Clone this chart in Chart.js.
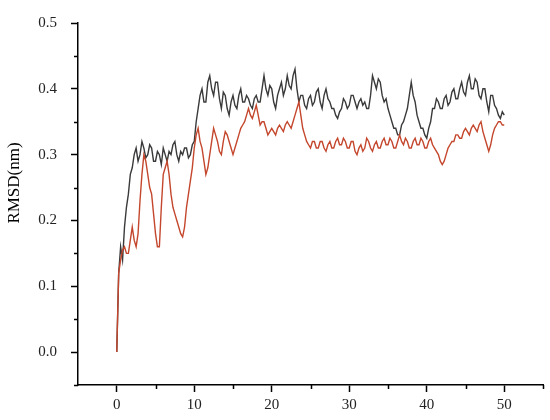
<!DOCTYPE html>
<html>
<head>
<meta charset="utf-8">
<script src="https://cdn.jsdelivr.net/npm/chart.js@4.4.0/dist/chart.umd.min.js"></script>
<style>
  body { margin: 0; background: #fff; }
</style>
</head>
<body>
<canvas id="myChart" width="550" height="420"></canvas>
<script>
// time in ns, 0.25 ns steps
const times = [
  0, 0.25, 0.5, 0.75, 1, 1.25, 1.5, 1.75, 2, 2.25, 2.5, 2.75, 3, 3.25, 3.5, 3.75, 4, 4.25, 4.5, 4.75,
  5, 5.25, 5.5, 5.75, 6, 6.25, 6.5, 6.75, 7, 7.25, 7.5, 7.75, 8, 8.25, 8.5, 8.75, 9, 9.25, 9.5, 9.75,
  10, 10.25, 10.5, 10.75, 11, 11.25, 11.5, 11.75, 12, 12.25, 12.5, 12.75, 13, 13.25, 13.5, 13.75, 14, 14.25, 14.5, 14.75,
  15, 15.25, 15.5, 15.75, 16, 16.25, 16.5, 16.75, 17, 17.25, 17.5, 17.75, 18, 18.25, 18.5, 18.75, 19, 19.25, 19.5, 19.75,
  20, 20.25, 20.5, 20.75, 21, 21.25, 21.5, 21.75, 22, 22.25, 22.5, 22.75, 23, 23.25, 23.5, 23.75, 24, 24.25, 24.5, 24.75,
  25, 25.25, 25.5, 25.75, 26, 26.25, 26.5, 26.75, 27, 27.25, 27.5, 27.75, 28, 28.25, 28.5, 28.75, 29, 29.25, 29.5, 29.75,
  30, 30.25, 30.5, 30.75, 31, 31.25, 31.5, 31.75, 32, 32.25, 32.5, 32.75, 33, 33.25, 33.5, 33.75, 34, 34.25, 34.5, 34.75,
  35, 35.25, 35.5, 35.75, 36, 36.25, 36.5, 36.75, 37, 37.25, 37.5, 37.75, 38, 38.25, 38.5, 38.75, 39, 39.25, 39.5, 39.75,
  40, 40.25, 40.5, 40.75, 41, 41.25, 41.5, 41.75, 42, 42.25, 42.5, 42.75, 43, 43.25, 43.5, 43.75, 44, 44.25, 44.5, 44.75,
  45, 45.25, 45.5, 45.75, 46, 46.25, 46.5, 46.75, 47, 47.25, 47.5, 47.75, 48, 48.25, 48.5, 48.75, 49, 49.25, 49.5, 49.75,
  50
];

// RMSD (nm), black trace
const blackRmsd = [
  0.00, 0.12, 0.16, 0.14, 0.19, 0.22, 0.24, 0.27, 0.28, 0.30, 0.31, 0.29, 0.30, 0.32, 0.31, 0.295, 0.30, 0.315, 0.31, 0.29,
  0.29, 0.305, 0.30, 0.285, 0.31, 0.30, 0.29, 0.305, 0.30, 0.315, 0.32, 0.30, 0.29, 0.305, 0.30, 0.31, 0.31, 0.295, 0.30, 0.315,
  0.32, 0.35, 0.37, 0.39, 0.40, 0.38, 0.38, 0.41, 0.42, 0.40, 0.39, 0.41, 0.41, 0.385, 0.37, 0.395, 0.39, 0.37, 0.36, 0.38,
  0.39, 0.375, 0.37, 0.39, 0.40, 0.38, 0.38, 0.39, 0.385, 0.375, 0.37, 0.385, 0.39, 0.38, 0.38, 0.40, 0.42, 0.40, 0.39, 0.405,
  0.40, 0.38, 0.37, 0.39, 0.40, 0.41, 0.39, 0.40, 0.42, 0.405, 0.40, 0.42, 0.43, 0.40, 0.38, 0.39, 0.39, 0.375, 0.37, 0.385,
  0.39, 0.375, 0.38, 0.395, 0.40, 0.38, 0.37, 0.39, 0.40, 0.385, 0.38, 0.37, 0.37, 0.36, 0.355, 0.365, 0.37, 0.385, 0.38, 0.37,
  0.375, 0.39, 0.39, 0.38, 0.37, 0.38, 0.385, 0.375, 0.38, 0.37, 0.37, 0.39, 0.42, 0.41, 0.40, 0.415, 0.41, 0.39, 0.38, 0.385,
  0.37, 0.36, 0.35, 0.34, 0.34, 0.33, 0.33, 0.345, 0.35, 0.36, 0.37, 0.39, 0.41, 0.39, 0.38, 0.36, 0.35, 0.34, 0.34, 0.33,
  0.325, 0.34, 0.35, 0.37, 0.37, 0.385, 0.38, 0.37, 0.37, 0.385, 0.39, 0.375, 0.38, 0.395, 0.40, 0.385, 0.385, 0.40, 0.41, 0.395,
  0.39, 0.41, 0.42, 0.40, 0.40, 0.415, 0.41, 0.39, 0.385, 0.40, 0.40, 0.38, 0.365, 0.39, 0.39, 0.375, 0.37, 0.36, 0.355, 0.365,
  0.36
];

// RMSD (nm), red trace
const redRmsd = [
  0.00, 0.12, 0.14, 0.155, 0.16, 0.15, 0.15, 0.17, 0.19, 0.17, 0.16, 0.18, 0.23, 0.27, 0.30, 0.29, 0.27, 0.25, 0.24, 0.21,
  0.18, 0.16, 0.16, 0.22, 0.27, 0.28, 0.29, 0.27, 0.24, 0.22, 0.21, 0.20, 0.19, 0.18, 0.175, 0.19, 0.22, 0.24, 0.26, 0.28,
  0.31, 0.33, 0.34, 0.32, 0.31, 0.29, 0.27, 0.28, 0.30, 0.32, 0.34, 0.33, 0.32, 0.305, 0.30, 0.32, 0.335, 0.33, 0.32, 0.31,
  0.30, 0.31, 0.32, 0.33, 0.34, 0.345, 0.35, 0.36, 0.37, 0.36, 0.355, 0.365, 0.375, 0.36, 0.345, 0.35, 0.35, 0.34, 0.33, 0.335,
  0.34, 0.335, 0.33, 0.34, 0.345, 0.34, 0.335, 0.345, 0.35, 0.345, 0.34, 0.35, 0.36, 0.37, 0.38, 0.36, 0.34, 0.33, 0.32, 0.315,
  0.31, 0.32, 0.32, 0.31, 0.31, 0.32, 0.32, 0.31, 0.305, 0.315, 0.32, 0.31, 0.31, 0.32, 0.325, 0.315, 0.315, 0.325, 0.32, 0.31,
  0.31, 0.32, 0.32, 0.305, 0.30, 0.31, 0.315, 0.305, 0.31, 0.325, 0.32, 0.31, 0.305, 0.315, 0.32, 0.31, 0.31, 0.32, 0.325, 0.315,
  0.315, 0.325, 0.32, 0.31, 0.31, 0.32, 0.33, 0.32, 0.315, 0.325, 0.32, 0.31, 0.31, 0.32, 0.325, 0.315, 0.315, 0.325, 0.32, 0.31,
  0.31, 0.32, 0.325, 0.315, 0.31, 0.305, 0.30, 0.29, 0.285, 0.29, 0.30, 0.31, 0.315, 0.32, 0.32, 0.33, 0.33, 0.325, 0.325, 0.335,
  0.34, 0.335, 0.33, 0.34, 0.345, 0.34, 0.335, 0.345, 0.35, 0.335, 0.325, 0.315, 0.305, 0.315, 0.33, 0.34, 0.345, 0.35, 0.35, 0.345,
  0.345
];

const xMajorTicks = [0, 10, 20, 30, 40, 50];
const xMinorTicks = [5, 15, 25, 35, 45, 55];
const yMajorTicks = [0, 0.1, 0.2, 0.3, 0.4, 0.5];
const yMinorTicks = [-0.05, 0.05, 0.15, 0.25, 0.35, 0.45];
const yTitle = "RMSD(nm)";

const fontFamily = "'Liberation Serif', 'DejaVu Serif', serif";

// short minor ticks + rotated y title
const extrasPlugin = {
  id: "extras",
  afterDraw(chart) {
    const ctx = chart.ctx;
    const xs = chart.scales.x;
    const ys = chart.scales.y;
    ctx.save();
    ctx.strokeStyle = "#000";
    ctx.lineWidth = 1.5;
    ctx.beginPath();
    xMinorTicks.forEach((v) => {
      const px = Math.round(xs.getPixelForValue(v)) + 0.5;
      ctx.moveTo(px, xs.top);
      ctx.lineTo(px, xs.top + 4);
    });
    yMinorTicks.forEach((v) => {
      const py = Math.round(ys.getPixelForValue(v)) + 0.5;
      ctx.moveTo(ys.right, py);
      ctx.lineTo(ys.right - 4, py);
    });
    ctx.stroke();

    ctx.translate(15, 183);
    ctx.rotate(-Math.PI / 2);
    ctx.fillStyle = "#000";
    ctx.font = "17px " + fontFamily;
    ctx.textAlign = "center";
    ctx.textBaseline = "middle";
    ctx.fillText(yTitle, 0, 0);
    ctx.restore();
  },
};

const ctx = document.getElementById("myChart").getContext("2d");
new Chart(ctx, {
  type: "line",
  data: {
    datasets: [
      {
        data: times.map((t, i) => ({ x: t, y: redRmsd[i] })),
        borderColor: "#c4472d",
        borderWidth: 1.4,
        pointRadius: 0,
        fill: false,
      },
      {
        data: times.map((t, i) => ({ x: t, y: blackRmsd[i] })),
        borderColor: "#3a3a3a",
        borderWidth: 1.4,
        pointRadius: 0,
        fill: false,
      },
    ],
  },
  options: {
    responsive: false,
    animation: false,
    layout: { padding: { top: 11, right: 7, left: 0, bottom: 0 } },
    plugins: {
      legend: { display: false },
      tooltip: { enabled: false },
    },
    scales: {
      x: {
        type: "linear",
        min: -5,
        max: 55,
        afterBuildTicks: (scale) => {
          scale.ticks = xMajorTicks.map((v) => ({ value: v }));
        },
        afterFit: (scale) => {
          scale.height = 35;
        },
        grid: {
          drawOnChartArea: false,
          drawTicks: true,
          tickLength: 7,
          tickColor: "#000",
          tickWidth: 1.5,
        },
        border: { color: "#000", width: 1.5 },
        ticks: {
          color: "#222",
          font: { family: fontFamily, size: 15 },
          padding: 4,
          maxRotation: 0,
        },
      },
      y: {
        min: -0.05,
        max: 0.5,
        afterBuildTicks: (scale) => {
          scale.ticks = yMajorTicks.map((v) => ({ value: v }));
        },
        afterFit: (scale) => {
          scale.width = 78;
        },
        grid: {
          drawOnChartArea: false,
          drawTicks: true,
          tickLength: 7,
          tickColor: "#000",
          tickWidth: 1.5,
        },
        border: { color: "#000", width: 1.5 },
        ticks: {
          color: "#222",
          font: { family: fontFamily, size: 15 },
          padding: 14,
          callback: (v) => v.toFixed(1),
        },
      },
    },
  },
  plugins: [extrasPlugin],
});
</script>
</body>
</html>
